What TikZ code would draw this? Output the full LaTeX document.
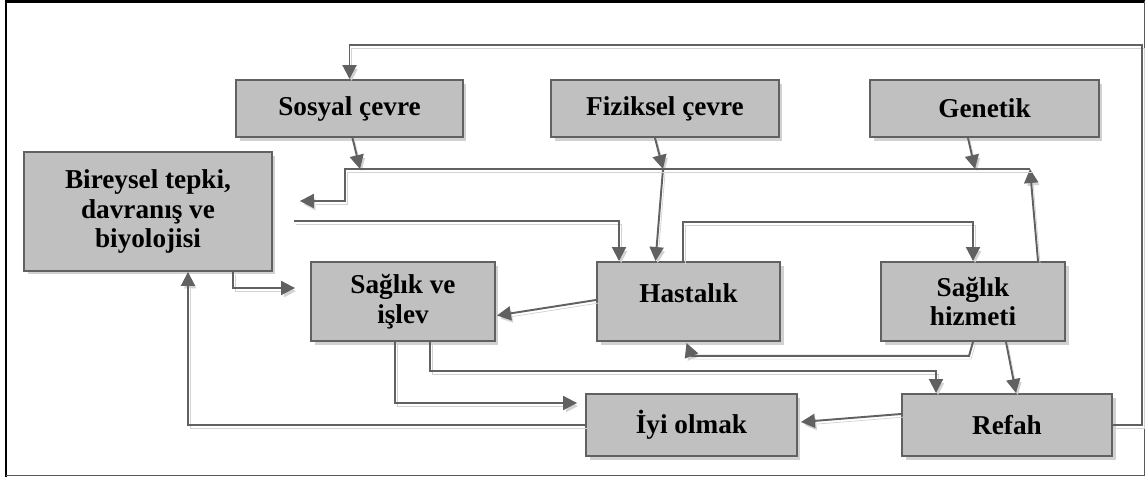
\documentclass[tikz,border=0pt]{standalone}
\usepackage{fontspec}
\setmainfont{Liberation Serif}
\usetikzlibrary{arrows.meta,calc,shadows}
\definecolor{boxfill}{HTML}{C0C0C0}
\definecolor{linegray}{HTML}{616161}
\begin{document}
\begin{tikzpicture}[x=0.02cm,y=-0.02cm,
    box/.style={draw=linegray, line width=1.1pt, fill=boxfill, align=center, inner sep=0pt,
      font=\fontsize{15.5pt}{16.8pt}\selectfont\bfseries,
      drop shadow={shadow xshift=2pt, shadow yshift=-2pt, fill=gray!60, opacity=0.6}},
    conn/.style={draw=linegray, line width=1.1pt, -{Triangle[length=0.28cm,width=0.28cm]},
      preaction={draw=gray!35, transform canvas={xshift=1.2pt,yshift=-1.8pt}}}]
  \useasboundingbox (0,0) rectangle (1147,479);
  \draw[black, line width=1.5pt] (6,477) -- (6,1.5) -- (1145,1.5);
  \draw[gray!70!black, line width=1pt] (1144.5,1.5) -- (1144.5,475.5) -- (6,475.5);

  \node[box, minimum width=4.54cm, minimum height=1.14cm] (sosyal) at (349.5,108.5) {Sosyal çevre};
  \node[box, minimum width=4.56cm, minimum height=1.14cm] (fiziksel) at (665,108.5) {Fiziksel çevre};
  \node[box, minimum width=4.58cm, minimum height=1.14cm] (genetik) at (984.5,108.5) {Genetik};
  \node[box, minimum width=4.96cm, minimum height=2.38cm] (bireysel) at (148,211.5) {Bireysel tepki,\\davranış ve\\biyolojisi};
  \node[box, minimum width=3.68cm, minimum height=1.58cm] (saglik) at (403,301.5) {Sağlık ve\\işlev};
  \node[box, minimum width=3.66cm, minimum height=1.58cm, text depth=0.35cm] (hastalik) at (688.5,301.5) {Hastalık};
  \node[box, minimum width=3.68cm, minimum height=1.58cm] (hizmet) at (973,301.5) {Sağlık\\hizmeti};
  \node[box, minimum width=4.22cm, minimum height=1.24cm] (iyi) at (691.5,425) {İyi olmak};
  \node[box, minimum width=4.2cm, minimum height=1.24cm] (refah) at (1007,425) {Refah};

  \coordinate (loop) at (1142,45);
  \coordinate (busR) at (1030,169);
  \coordinate (busL) at (345,169);
  \coordinate (fizJoin) at (663,169);

  \draw[conn] (refah.east) -| (loop) -| (sosyal.north);
  \draw[conn] ($(sosyal.south)+(3,0)$) -- ($(busL)+(15,0)$);
  \draw[conn] ($(fiziksel.south)+(-10,0)$) -- (fizJoin);
  \draw[conn] (fizJoin) -- ($(hastalik.north)+(-33,0)$);
  \draw[conn] ($(genetik.south)+(-16.5,0)$) -- ($(busR)+(-55,0)$);
  \draw[conn] ($(hizmet.north)+(65,0)$) -- (busR);
  \draw[conn] (busR) -- (busL) |- ($(bireysel.east)+(27,-10.5)$);
  \draw[conn] ($(bireysel.east)+(21,9.5)$) -| ($(hastalik.north)+(-69.5,0)$);
  \draw[conn] ($(hastalik.north)+(-5.5,0)$) -- ++(0,-39) -| (hizmet.north);
  \draw[conn] ($(bireysel.south)+(85,0)$) |- ($(saglik.west)+(-15,-13.5)$);
  \draw[conn] ($(hastalik.west)+(0,-1.5)$) -- ($(saglik.east)+(1,14)$);
  \draw[conn] ($(saglik.south)+(-8,0)$) |- ($(iyi.west)+(-8,-22)$);
  \draw[conn] ($(saglik.south)+(27,0)$) |- ($(refah.north)+(-71,-22)$) -- ($(refah.north)+(-71,0)$);
  \draw[conn] (hizmet.south) -- ++(-4,14) -- ($(hastalik.south)+(3,14)$) -- ($(hastalik.south)+(-2,1)$);
  \draw[conn] ($(hizmet.south)+(33,0)$) -- ($(refah.north)+(9,0)$);
  \draw[conn] ($(refah.west)+(0,-11)$) -- ($(iyi.east)+(3,-3)$);
  \draw[conn] (iyi.west) -| ($(bireysel.south)+(40,0)$);
\end{tikzpicture}
\end{document}
